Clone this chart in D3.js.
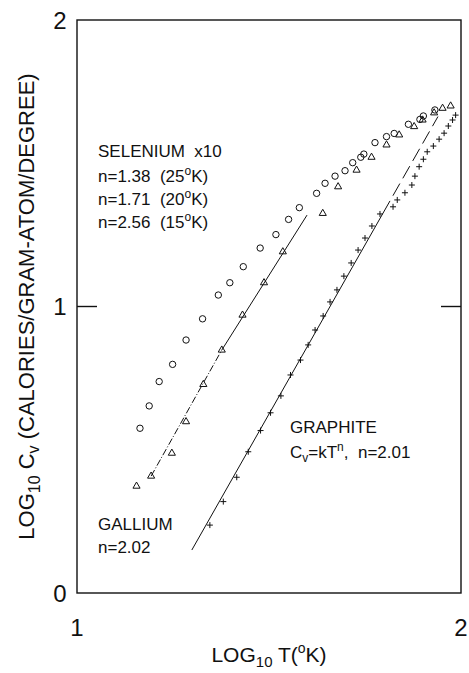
<!DOCTYPE html>
<html>
<head>
<meta charset="utf-8">
<script src="https://cdn.jsdelivr.net/npm/d3@7"></script>
<style>
  body { margin: 0; background: #fff; }
  text { font-family: "Liberation Sans", Arial, sans-serif; fill: #111; }
</style>
</head>
<body>
<div id="chart"></div>
<script>
// values (log10 T, log10 Cv)
var seCircleX = [1.164, 1.188, 1.214, 1.249, 1.284, 1.327, 1.368, 1.398, 1.433, 1.477, 1.518, 1.551, 1.579,
                 1.624, 1.646, 1.672, 1.698, 1.718, 1.739, 1.747, 1.776, 1.806, 1.826, 1.863, 1.893, 1.902, 1.932];
var seCircleY = [0.575, 0.653, 0.738, 0.798, 0.883, 0.957, 1.040, 1.083, 1.139, 1.204, 1.251, 1.304, 1.345,
                 1.395, 1.430, 1.455, 1.474, 1.502, 1.521, 1.532, 1.572, 1.593, 1.604, 1.636, 1.653, 1.665, 1.686];

var seTriX = [1.155, 1.193, 1.247, 1.284, 1.329, 1.377, 1.431, 1.487, 1.536, 1.640, 1.680, 1.728, 1.767,
              1.806, 1.839, 1.878, 1.900, 1.930, 1.952, 1.973];
var seTriY = [0.373, 0.408, 0.488, 0.598, 0.728, 0.848, 0.970, 1.083, 1.191, 1.325, 1.418, 1.476, 1.521,
              1.564, 1.599, 1.628, 1.651, 1.676, 1.692, 1.700];

var grX = [1.346, 1.381, 1.416, 1.446, 1.478, 1.504, 1.531, 1.556, 1.582, 1.602, 1.620, 1.641, 1.659, 1.677,
           1.695, 1.714, 1.732, 1.750, 1.768, 1.789, 1.823, 1.834, 1.854, 1.872, 1.880, 1.891, 1.902, 1.912,
           1.928, 1.943, 1.956, 1.967, 1.978, 1.986];
var grY = [0.237, 0.319, 0.404, 0.493, 0.567, 0.629, 0.688, 0.761, 0.813, 0.866, 0.918, 0.967, 1.016, 1.058,
           1.106, 1.152, 1.197, 1.239, 1.281, 1.323, 1.348, 1.372, 1.397, 1.424, 1.455, 1.488, 1.514, 1.540,
           1.560, 1.584, 1.605, 1.630, 1.651, 1.668];

// fitted lines, as end points
var seFitDashX = [1.193, 1.377], seFitDashY = [0.408, 0.848];
var seFitX = [1.377, 1.599], seFitY = [0.848, 1.319];
var grFitX = [1.299, 1.797], grFitY = [0.150, 1.326];
var grFitDashX = [1.797, 1.940], grFitDashY = [1.326, 1.663];

var xTicks = [1, 2];
var yTicks = [0, 1, 2];

var W = 469, H = 673;
var margin = {top: 20, right: 8, bottom: 80, left: 77};
var width = W - margin.left - margin.right,
    height = H - margin.top - margin.bottom;

var svg = d3.select("#chart").append("svg")
    .attr("width", W).attr("height", H);

var g = svg.append("g")
    .attr("transform", "translate(" + margin.left + "," + margin.top + ")");

var x = d3.scaleLinear().domain([1, 2]).range([0, width]);
var y = d3.scaleLinear().domain([0, 2]).range([height, 0]);

// frame
g.append("rect")
    .attr("x", 0).attr("y", 0)
    .attr("width", width).attr("height", height)
    .attr("fill", "none").attr("stroke", "#111").attr("stroke-width", 1.4);

// inward ticks at 1 on both sides
g.append("line").attr("x1", 0).attr("x2", 20).attr("y1", y(1)).attr("y2", y(1))
    .attr("stroke", "#111").attr("stroke-width", 1.4);
g.append("line").attr("x1", width - 20).attr("x2", width).attr("y1", y(1)).attr("y2", y(1))
    .attr("stroke", "#111").attr("stroke-width", 1.4);

// tick labels
g.selectAll(".ylab").data(yTicks).enter().append("text")
    .attr("x", -17).attr("y", function(d) { return y(d); })
    .attr("dy", "0.36em").attr("text-anchor", "middle")
    .style("font-size", "24px")
    .text(function(d) { return d; });

g.selectAll(".xlab").data(xTicks).enter().append("text")
    .attr("x", function(d) { return x(d); }).attr("y", height + 34)
    .attr("dy", "0.36em").attr("text-anchor", "middle")
    .style("font-size", "24px")
    .text(function(d) { return d; });

// axis titles
var xt = g.append("text")
    .attr("x", width / 2).attr("y", height + 69)
    .attr("text-anchor", "middle").style("font-size", "21px");
xt.append("tspan").text("LOG");
xt.append("tspan").attr("dy", 5).style("font-size", "15px").text("10");
xt.append("tspan").attr("dy", -5).text(" T(");
xt.append("tspan").attr("dy", -9).style("font-size", "14px").text("o");
xt.append("tspan").attr("dy", 9).text("K)");

var yt = svg.append("text")
    .attr("transform", "translate(34," + (margin.top + height / 2) + ") rotate(-90)")
    .attr("text-anchor", "middle").style("font-size", "22px");
yt.append("tspan").text("LOG");
yt.append("tspan").attr("dy", 6).style("font-size", "16px").text("10");
yt.append("tspan").attr("dy", -6).text(" C");
yt.append("tspan").attr("dy", 5).style("font-size", "16px").text("v");
yt.append("tspan").attr("dy", -5).text("  (CALORIES/GRAM-ATOM/DEGREE)");

// fit lines
var line = d3.line().x(function(d) { return x(d[0]); }).y(function(d) { return y(d[1]); });
function fit(xs, ys, dash) {
  g.append("path")
    .attr("d", line(d3.zip(xs, ys)))
    .attr("fill", "none").attr("stroke", "#111").attr("stroke-width", 1)
    .attr("stroke-dasharray", dash);
}
fit(seFitDashX, seFitDashY, "7,2,1,2");
fit(seFitX, seFitY, null);
fit(grFitX, grFitY, null);
fit(grFitDashX, grFitDashY, "14,6");

// markers
g.selectAll(".circ").data(d3.zip(seCircleX, seCircleY)).enter().append("circle")
    .attr("cx", function(d) { return x(d[0]); })
    .attr("cy", function(d) { return y(d[1]); })
    .attr("r", 3.2)
    .attr("fill", "none").attr("stroke", "#111").attr("stroke-width", 1);

var tri = d3.symbol().type(d3.symbolTriangle).size(22);
g.selectAll(".tri").data(d3.zip(seTriX, seTriY)).enter().append("path")
    .attr("d", tri)
    .attr("transform", function(d) { return "translate(" + x(d[0]) + "," + y(d[1]) + ")"; })
    .attr("fill", "none").attr("stroke", "#111").attr("stroke-width", 1);

g.selectAll(".plus").data(d3.zip(grX, grY)).enter().append("path")
    .attr("d", "M-3,0H3M0,-3V3")
    .attr("transform", function(d) { return "translate(" + x(d[0]) + "," + y(d[1]) + ")"; })
    .attr("fill", "none").attr("stroke", "#111").attr("stroke-width", 1);

// annotations
function label(px, py, parts) {
  var t = svg.append("text").attr("x", px).attr("y", py)
      .attr("xml:space", "preserve").style("font-size", "17px");
  parts.forEach(function(p) {
    var s = t.append("tspan").text(p[0]);
    if (p[1]) s.attr("dy", p[1]);
    if (p[2]) s.style("font-size", p[2]);
  });
}
label(98, 157, [["SELENIUM  x10"]]);
label(98, 182, [["n=1.38  (25"], ["o", -7, "12px"], ["K)", 7]]);
label(98, 205, [["n=1.71  (20"], ["o", -7, "12px"], ["K)", 7]]);
label(98, 228, [["n=2.56  (15"], ["o", -7, "12px"], ["K)", 7]]);
label(98, 530, [["GALLIUM"]]);
label(98, 553, [["n=2.02"]]);
label(290, 433, [["GRAPHITE"]]);
label(290, 458, [["C"], ["v", 4, "12px"], ["=kT", -4], ["n", -7, "12px"], [",  n=2.01", 7]]);
</script>
</body>
</html>
